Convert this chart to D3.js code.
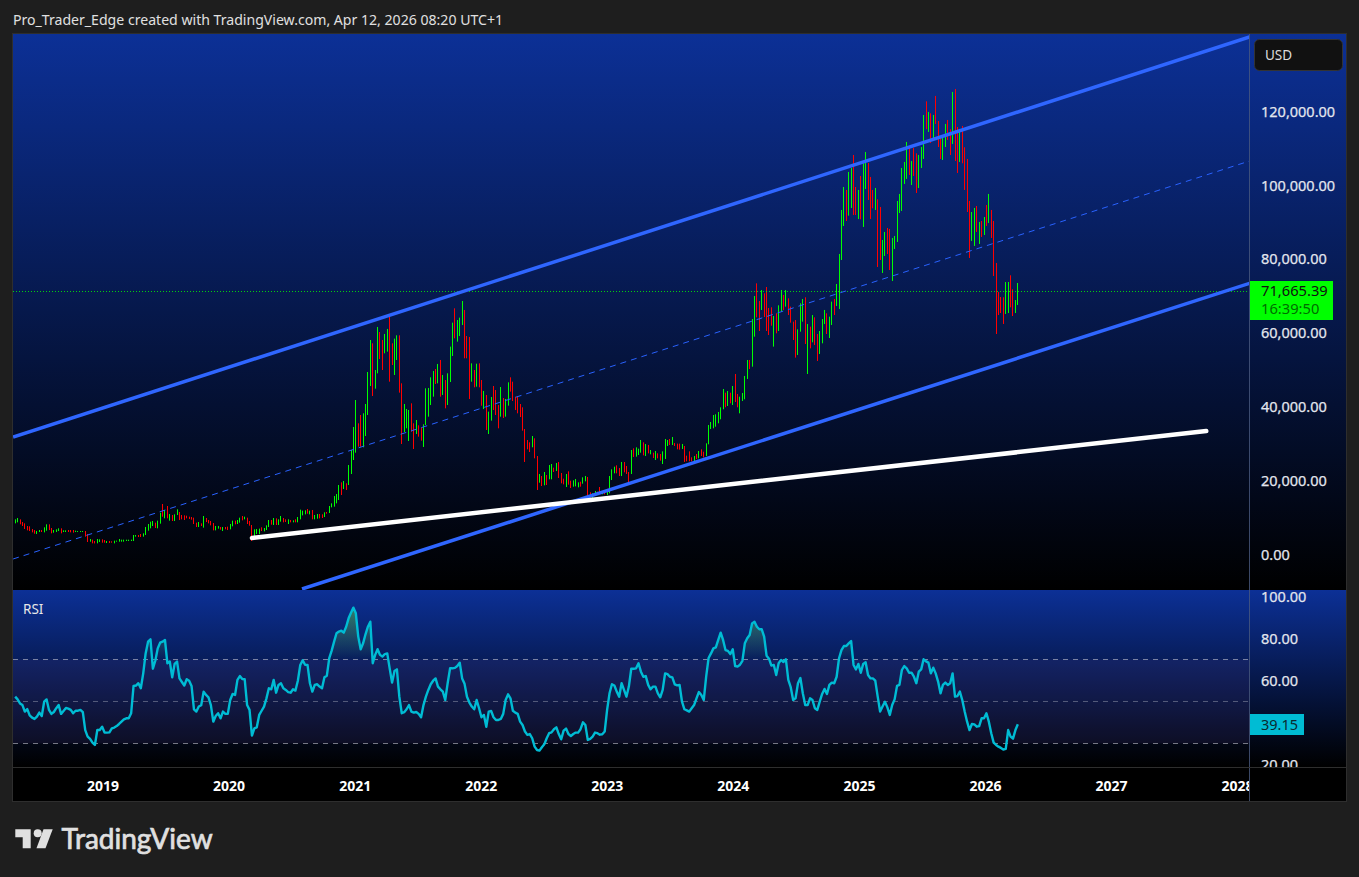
<!DOCTYPE html>
<html>
<head>
<meta charset="utf-8">
<title>BTC weekly</title>
<script src="https://cdnjs.cloudflare.com/ajax/libs/d3/7.9.0/d3.min.js"></script>
<style>
  html, body { margin: 0; padding: 0; background: #1e1e1e; overflow: hidden; }
  text { font-family: "Noto Sans", sans-serif; }
</style>
</head>
<body>
<div id="chart"></div>
<script>
const highs = [
  9650,10010,9650,8930,8570,7850,7760,7040,6760,6490,
  6760,6760,7490,8300,8300,7310,6760,6950,7220,7220,
  6670,6670,6760,6760,6760,6580,6490,6490,6490,6490,
  5680,4330,4150,3790,4330,4240,4240,4060,3790,3790,
  3700,3880,3880,4330,4150,4150,4150,4150,4150,5410,
  5410,5410,5680,5860,7580,8390,9020,9200,8750,9290,
  11450,13800,12180,13260,11090,10820,11000,12360,11640,10820,
  10730,10640,10370,10280,10100,8750,8930,8570,10550,10010,
  9470,9200,8660,7850,7850,7580,7580,7580,7670,8390,
  9290,9290,9470,10100,10550,10370,10100,9200,8120,6950,
  7040,7130,7490,7310,8030,9470,9470,10010,9920,9650,
  10550,10010,9650,9650,9470,9380,9650,10280,12270,12000,
  12090,12450,12000,12180,10820,11090,11090,11000,11550,11640,
  13260,13980,15960,16500,18940,19660,20020,19390,24350,28410,
  34640,41940,35630,37880,38340,40860,49520,58180,57280,50060,
  61700,60340,58180,59800,61160,64670,57280,58540,59440,59440,
  46450,40860,39510,39240,41040,35630,36530,35090,34550,35360,
  45100,45190,48080,49790,50330,51690,52770,48710,47350,49160,
  56380,62870,66750,63590,64220,68730,66300,59260,58990,51860,
  50060,51770,51860,47350,44380,43300,38790,42760,45730,44650,
  40590,45460,42480,42210,46720,48080,46900,42840,42840,40860,
  39960,34100,31120,30490,32200,31570,26790,21920,21380,22460,
  21650,24350,24620,23630,24890,25170,22190,20660,21920,22640,
  20110,20200,20570,19660,19840,21020,21380,21110,16960,16690,
  17320,17140,18400,17230,17140,17320,21380,23180,23900,24260,
  23540,25170,25170,24090,22460,28410,28860,29140,28770,31120,
  30490,30040,29770,28410,27690,28140,27510,27330,28050,31390,
  31120,31390,31930,30310,30130,30130,30040,29500,26880,28050,
  26430,26790,27330,28140,28600,27950,30220,35180,35990,37880,
  38070,38700,39960,44920,43920,44380,43920,45730,48980,43570,
  42840,43840,48440,52770,52770,63860,70080,73510,68730,71710,
  70810,72520,66840,67020,64670,65400,67560,71710,70360,71710,
  69450,67200,63140,63590,61060,68100,69270,69730,62510,61790,
  64940,64310,59800,60610,63860,66300,65400,64490,68550,69270,
  73330,81450,93360,99580,98770,103640,104720,108240,99580,98770,
  102560,105990,109050,106080,102290,98770,99310,96240,94170,85240,
  87400,88490,88220,85780,86320,95790,97690,104720,106350,111760,
  110680,106620,110130,108690,108240,110400,119060,122760,119880,119510,
  119060,124210,117440,113380,113200,116630,117710,115190,125290,126100,
  115820,115280,116090,110320,107160,95790,92810,93900,94440,90110,
  90380,91460,94710,97690,93360,90380,79020,71170,69810,69730,
  73870,73870,75680,71890,68990,73600
];

const lows = [
  8570,8840,8300,7850,7040,6670,6490,6130,5770,5680,
  6220,6220,6130,6580,6760,5860,6040,6220,6490,5860,
  6220,6220,6220,6130,6040,6220,6220,6220,6220,4960,
  3520,3610,3160,3130,3160,3520,3340,3340,3250,3250,
  3340,3160,3610,3610,3610,3610,3790,3790,3790,3790,
  4960,4870,4870,4960,5410,6580,7220,7850,7310,7220,
  8480,10370,9920,9920,9290,9200,9200,10820,9470,9650,
  9470,9920,9740,9560,8390,7580,7580,7850,7400,8930,
  8570,8030,6670,6670,7130,6860,6490,6950,6760,6950,
  7760,8300,8390,8750,9380,9650,8390,7940,3790,4330,
  5680,5680,6490,6400,6760,7580,8210,8120,8120,8120,
  9020,8840,8930,8390,8840,8840,8840,8840,9650,10730,
  11000,11180,11000,9650,9650,9830,9920,10010,10280,11180,
  11360,12900,13080,13980,14880,16240,17860,17590,18940,21920,
  25710,27690,29320,29320,29140,32200,37880,45730,43030,45010,
  49160,53040,50060,54570,55020,46900,51410,48710,52770,43930,
  30040,33280,34280,30850,33370,28680,32740,32020,30940,29230,
  35180,37430,40590,42840,46270,46450,42840,43300,39690,40590,
  46810,53850,58630,57730,59260,62240,53220,53220,42210,46900,
  45370,45550,45370,40410,39510,33830,32740,36350,39240,37880,
  34280,37430,37070,37430,40410,44200,41670,39240,38340,37340,
  33650,25170,28590,27870,29140,26160,17590,19570,18670,18850,
  18940,20480,20480,22460,22730,20840,19390,19120,18400,19030,
  18130,18490,18580,18310,18490,19300,19930,15420,15510,15420,
  15970,16330,16690,16420,16420,16240,16690,20300,22100,22100,
  21380,21380,22370,21920,19390,21920,26520,26610,27060,27690,
  26970,26790,27510,27240,26250,25710,26160,25530,24620,25980,
  29500,29770,29770,29500,28590,28500,28680,25170,25350,25350,
  25350,24980,25980,26160,26800,26430,26790,29950,34100,34280,
  34720,35640,36720,39430,39970,40320,41050,40590,41400,39970,
  38340,41670,42130,47630,50330,50960,59080,64310,60610,66300,
  64400,60610,59530,62060,56380,59980,60610,65850,66300,67200,
  64940,62870,58180,53400,54120,60430,63140,57100,48980,55920,
  57550,56830,52500,54390,57280,62510,59800,58720,62240,64940,
  67380,66570,79830,89030,90380,91820,93900,92000,92000,90920,
  90830,88760,99040,96060,90920,93810,93360,77930,79830,76310,
  80910,81450,77120,74150,82800,84700,92550,93090,100390,101750,
  102830,100120,102560,97960,99310,104720,107160,115190,114470,111490,
  112300,116630,110400,107160,106890,110400,112300,108240,111220,106620,
  103370,106350,105990,98770,92810,80370,84970,83620,87400,84160,
  86050,86590,89030,89840,85780,75500,59800,64940,65480,62510,
  65210,65480,67020,64670,65480,67650
];

// 1 = week closed up, 0 = closed down
const upWeeks = [
  1,1,0,0,0,0,0,0,0,1, 1,0,1,1,0,0,1,1,1,0,
  1,1,0,0,0,1,1,1,1,0, 0,1,0,0,1,1,0,0,1,0,
  0,1,1,1,1,1,1,1,1,1, 1,0,0,1,1,1,1,1,0,1,
  1,0,1,0,1,0,1,1,0,0, 0,0,0,0,0,0,1,0,1,0,
  0,0,0,1,1,0,1,0,0,1, 1,0,1,1,0,1,0,0,0,1,
  1,1,0,1,1,1,0,1,0,1, 1,0,0,1,0,1,0,1,1,1,
  1,0,1,0,1,1,0,0,1,0, 1,1,1,1,1,0,1,0,1,1,
  1,1,0,0,1,1,1,1,0,1, 1,0,0,1,1,0,0,1,1,0,
  0,1,1,1,0,0,1,0,0,1, 1,1,1,1,0,1,0,1,0,1,
  1,1,0,1,1,1,0,0,0,1, 0,1,0,0,1,0,1,1,0,0,
  0,1,0,1,1,0,0,0,0,0, 0,0,0,0,1,0,0,1,0,1,
  0,1,1,0,1,0,0,0,1,0, 0,1,1,1,0,1,1,0,0,1,
  1,0,0,1,0,1,1,1,1,0, 0,1,0,0,0,1,0,1,1,1,
  0,1,0,1,0,1,0,0,1,1, 1,0,1,0,0,0,1,0,0,0,
  0,1,0,1,0,0,1,1,1,1, 1,1,1,1,0,1,0,1,0,0,
  1,1,1,1,0,1,1,0,0,1, 0,0,0,0,1,0,1,1,0,1,
  0,0,0,0,1,1,1,0,1,0, 1,0,0,1,1,1,0,1,1,0,
  1,1,1,1,0,1,1,0,0,1, 0,1,1,0,0,0,1,0,0,1,
  1,0,0,1,1,1,1,1,1,1, 0,1,0,0,1,1,1,0,1,0,
  1,0,0,0,1,1,0,0,1,0, 0,1,0,0,0,0,1,1,0,1,
  0,1,0,1,0,0,0,0,0,0, 1,1,0,0,1,1
];

const rsiValues = [
  52.3,51.0,49.1,48.3,45.2,46.4,43.4,42.3,41.7,42.8,
  44.7,43.1,49.9,51.0,46.0,44.1,45.0,46.8,48.3,44.1,
  45.5,46.9,46.6,46.0,44.4,45.6,45.6,46.0,44.9,36.4,
  33.3,32.2,30.4,29.3,36.4,36.4,38.0,35.2,35.2,35.3,
  37.2,37.6,38.3,39.3,40.4,41.5,42.0,42.0,44.4,57.4,
  57.6,58.7,56.3,63.4,72.9,78.5,79.6,65.6,69.4,75.3,
  78.0,78.5,79.3,68.2,69.0,61.5,67.9,69.0,61.0,59.3,
  57.6,60.6,59.9,57.4,46.3,45.2,47.6,48.2,54.7,53.1,
  52.0,48.3,40.4,43.1,44.4,42.0,45.2,44.1,44.1,50.7,
  53.6,53.1,60.3,62.1,60.7,60.6,48.3,46.0,33.8,37.2,
  37.7,43.6,45.6,47.6,51.5,56.3,55.8,60.3,54.2,57.9,
  58.7,56.3,55.5,54.5,54.2,55.8,55.2,59.9,67.4,69.6,
  67.5,67.4,58.7,54.7,57.9,58.2,57.1,56.3,61.5,62.3,
  70.6,74.2,78.5,82.5,83.3,83.7,82.8,85.6,89.6,92.3,
  94.7,92.0,80.9,74.9,77.7,82.0,85.6,88.0,68.2,72.2,
  74.9,72.2,71.4,72.6,72.9,65.8,59.0,64.5,65.3,52.3,
  44.4,44.9,46.3,48.3,45.2,44.7,45.0,44.1,42.5,48.3,
  52.3,55.5,58.2,59.9,61.0,57.1,55.8,54.7,50.7,58.7,
  65.8,65.8,66.0,66.9,68.5,61.0,58.4,52.3,49.5,47.6,
  46.3,50.7,46.8,42.5,43.6,38.0,45.2,45.5,42.5,41.2,
  41.2,41.7,44.1,50.7,53.4,51.5,45.6,44.7,44.1,40.4,
  38.8,35.7,34.1,34.5,32.5,28.5,26.9,26.6,28.2,29.6,
  32.5,34.9,35.3,36.8,37.7,34.5,32.0,36.1,37.1,34.5,
  33.6,34.5,35.2,35.2,36.8,40.1,38.8,31.7,32.2,33.3,
  35.2,34.9,34.2,34.4,35.7,46.0,53.9,58.2,57.6,54.7,
  52.3,58.7,55.5,52.3,57.1,65.6,65.6,65.8,68.2,64.2,
  61.8,62.1,57.9,55.8,57.1,57.1,53.9,52.0,55.5,63.4,
  63.0,61.8,61.5,58.2,57.7,57.9,49.9,46.3,45.8,45.2,
  46.8,48.3,51.5,54.5,53.1,50.7,61.8,70.7,72.9,75.3,
  75.8,79.3,82.8,79.3,74.5,74.1,72.6,74.9,66.9,66.6,
  67.5,69.4,77.7,80.1,81.7,87.2,88.0,85.6,84.4,84.4,
  80.9,71.8,70.4,67.1,67.4,62.6,68.2,69.8,68.8,70.1,
  60.3,56.8,50.7,51.5,58.7,61.2,53.9,48.3,48.3,51.5,
  50.7,46.8,46.0,49.9,53.6,56.0,53.6,57.9,59.0,58.7,
  61.8,70.6,74.5,76.4,76.4,77.7,78.8,67.4,65.3,67.9,
  63.7,67.9,68.7,62.6,61.0,61.0,59.9,52.3,45.2,47.6,
  49.9,47.2,43.6,48.3,51.0,57.4,57.9,65.0,66.9,65.8,
  63.7,63.7,61.8,58.7,64.2,65.3,70.1,69.1,68.5,63.4,
  66.1,63.4,59.5,53.9,57.9,59.0,57.9,58.7,63.4,52.3,
  52.6,54.7,50.7,45.2,40.4,36.4,39.3,39.1,38.0,38.3,
  42.0,42.0,44.4,40.4,34.9,30.4,29.3,28.5,27.9,27.1,
  27.4,36.4,33.3,32.3,36.4,39.15
];

const priceTicks = [0, 20000, 40000, 60000, 80000, 100000, 120000];
const rsiTicks = [20, 60, 80, 100];
const rsiLevels = [70, 50, 30];
const yearTicks = [2019, 2020, 2021, 2022, 2023, 2024, 2025, 2026, 2027, 2028];

const lastPrice = 71665.39;
const lastPriceLabel = "71,665.39";
const countdownLabel = "16:39:50";
const lastRsi = 39.15;

// drawn trend lines as [date, price]
const channelTop = [["2018-04-17", 31930], ["2028-02-07", 140170]];
const channelMid = [["2018-04-17", -1080], ["2028-02-07", 106620]];
const channelBottom = [["2020-08-01", -9200], ["2028-02-07", 73520]];
const supportLine = [["2020-03-09", 4600], ["2027-10-04", 33550]];

const width = 1359, height = 877;
const left = 13, right = 1346, axisX = 1249;
const priceTop = 34, priceBottom = 590, rsiBottom = 767, timeBottom = 801;

const svg = d3.select("#chart").append("svg")
    .attr("width", width)
    .attr("height", height)
    .style("display", "block");

const defs = svg.append("defs");

function paneGradient(id, y1, y2) {
    const g = defs.append("linearGradient")
        .attr("id", id)
        .attr("gradientUnits", "userSpaceOnUse")
        .attr("x1", 0).attr("x2", 0)
        .attr("y1", y1).attr("y2", y2);
    g.append("stop").attr("offset", "0%").attr("stop-color", "#0c3096");
    g.append("stop").attr("offset", "100%").attr("stop-color", "#000000");
}
paneGradient("priceBg", priceTop, priceBottom);
paneGradient("rsiBg", priceBottom, rsiBottom);

function clip(id, x, y, w, h) {
    defs.append("clipPath").attr("id", id)
        .append("rect").attr("x", x).attr("y", y).attr("width", w).attr("height", h);
}
clip("clipPrice", left, priceTop, axisX - left, priceBottom - priceTop);
clip("clipRsi", left, priceBottom, axisX - left, rsiBottom - priceBottom);
clip("clipRsiAxis", axisX, priceBottom, right - axisX, rsiBottom - priceBottom);
clip("clipTime", left, rsiBottom, axisX - left, timeBottom - rsiBottom);

// scales
const x = d3.scaleUtc()
    .domain([new Date(Date.UTC(2019, 0, 1)), new Date(Date.UTC(2028, 0, 1))])
    .range([102.5, 1237]);

const yPrice = d3.scaleLinear()
    .domain([0, 120000])
    .range([555, 111.5]);

const yRsi = d3.scaleLinear()
    .domain([30, 70])
    .range([743.5, 659.5]);

const firstWeek = new Date(Date.UTC(2018, 3, 23));
const weeks = highs.map((d, i) => d3.utcDay.offset(firstWeek, i * 7));

// backgrounds
svg.append("rect").attr("x", left).attr("y", priceTop)
    .attr("width", right - left).attr("height", priceBottom - priceTop)
    .attr("fill", "url(#priceBg)");
svg.append("rect").attr("x", left).attr("y", priceBottom)
    .attr("width", right - left).attr("height", rsiBottom - priceBottom)
    .attr("fill", "url(#rsiBg)");
svg.append("rect").attr("x", left).attr("y", rsiBottom)
    .attr("width", right - left).attr("height", timeBottom - rsiBottom)
    .attr("fill", "#000");

// weekly bars
const pricePane = svg.append("g").attr("clip-path", "url(#clipPrice)");

pricePane.append("g").selectAll("rect")
    .data(weeks)
    .enter().append("rect")
    .attr("x", d => Math.floor(x(d)))
    .attr("width", 1)
    .attr("y", (d, i) => yPrice(highs[i]))
    .attr("height", (d, i) => yPrice(lows[i]) - yPrice(highs[i]))
    .attr("fill", (d, i) => upWeeks[i] ? "#00ff00" : "#ff0000");

// last price line
pricePane.append("line")
    .attr("x1", left).attr("x2", axisX)
    .attr("y1", Math.ceil(yPrice(lastPrice)) + 0.5)
    .attr("y2", Math.ceil(yPrice(lastPrice)) + 0.5)
    .attr("stroke", "#00ff00")
    .attr("stroke-opacity", 0.8)
    .attr("stroke-width", 1)
    .attr("stroke-dasharray", "1 2");

// trend lines
const trend = d3.line()
    .x(d => x(new Date(d[0])))
    .y(d => yPrice(d[1]));

pricePane.append("path").attr("d", trend(channelMid))
    .attr("fill", "none").attr("stroke", "#2962ff").attr("stroke-width", 1)
    .attr("stroke-dasharray", "6 5");
pricePane.append("path").attr("d", trend(channelTop))
    .attr("fill", "none").attr("stroke", "#2f66ff").attr("stroke-width", 3.5);
pricePane.append("path").attr("d", trend(channelBottom))
    .attr("fill", "none").attr("stroke", "#2f66ff").attr("stroke-width", 3.5);
pricePane.append("path").attr("d", trend(supportLine))
    .attr("fill", "none").attr("stroke", "#ffffff").attr("stroke-width", 4.5)
    .attr("stroke-linecap", "round");

// rsi pane
const rsiPane = svg.append("g").attr("clip-path", "url(#clipRsi)");

rsiPane.append("rect")
    .attr("x", left).attr("width", axisX - left)
    .attr("y", yRsi(70)).attr("height", yRsi(30) - yRsi(70))
    .attr("fill", "#7e57c2").attr("opacity", 0.1);

rsiPane.selectAll("line.level")
    .data(rsiLevels)
    .enter().append("line")
    .attr("class", "level")
    .attr("x1", left).attr("x2", axisX)
    .attr("y1", d => Math.floor(yRsi(d)) + 0.5)
    .attr("y2", d => Math.floor(yRsi(d)) + 0.5)
    .attr("stroke", "#d1d4dc")
    .attr("stroke-opacity", d => d === 50 ? 0.35 : 0.55)
    .attr("stroke-dasharray", "5 5");

const overGrad = defs.append("linearGradient").attr("id", "overFill")
    .attr("gradientUnits", "userSpaceOnUse")
    .attr("x1", 0).attr("x2", 0).attr("y1", yRsi(100)).attr("y2", yRsi(70));
overGrad.append("stop").attr("offset", "0%").attr("stop-color", "#4caf50").attr("stop-opacity", 0.75);
overGrad.append("stop").attr("offset", "100%").attr("stop-color", "#4caf50").attr("stop-opacity", 0);

defs.append("clipPath").attr("id", "clipOver").append("rect")
    .attr("x", left).attr("width", axisX - left)
    .attr("y", priceBottom).attr("height", yRsi(70) - priceBottom);

rsiPane.append("g").attr("clip-path", "url(#clipOver)").append("path")
    .attr("d", d3.area()
        .x((d, i) => x(weeks[i]))
        .y0(yRsi(70))
        .y1(d => yRsi(d))(rsiValues))
    .attr("fill", "url(#overFill)");

rsiPane.append("path")
    .attr("d", d3.line()
        .x((d, i) => x(weeks[i]))
        .y(d => yRsi(d))(rsiValues))
    .attr("fill", "none")
    .attr("stroke", "#00bcd4")
    .attr("stroke-width", 2.4)
    .attr("stroke-linejoin", "round");

// axes
function styleAxis(g) {
    g.select(".domain").remove();
    g.selectAll(".tick line").remove();
    g.selectAll("text")
        .attr("fill", "#e3e6ee")
        .style("font-size", "14.5px")
        .style("stroke", "#e3e6ee")
        .style("stroke-width", 0.25);
}

svg.append("g")
    .attr("transform", `translate(${axisX},0)`)
    .call(d3.axisRight(yPrice).tickValues(priceTicks).tickFormat(d3.format(",.2f")).tickSize(0).tickPadding(12))
    .call(styleAxis);

svg.append("g")
    .attr("clip-path", "url(#clipRsiAxis)")
    .append("g")
    .attr("transform", `translate(${axisX},0)`)
    .call(d3.axisRight(yRsi).tickValues(rsiTicks).tickFormat(d3.format(".2f")).tickSize(0).tickPadding(12))
    .call(styleAxis);

svg.append("g")
    .attr("clip-path", "url(#clipTime)")
    .append("g")
    .attr("transform", `translate(0,${rsiBottom + 8})`)
    .call(d3.axisBottom(x)
        .tickValues(yearTicks.map(y => new Date(Date.UTC(y, 0, 1))))
        .tickFormat(d3.utcFormat("%Y"))
        .tickPadding(0))
    .call(styleAxis)
    .call(g => g.selectAll("text")
        .style("font-size", "14px")
        .style("stroke", "none")
        .style("font-weight", 700)
        .attr("fill", "#fff"));

// pane and frame lines
svg.append("line").attr("x1", axisX + 0.5).attr("x2", axisX + 0.5)
    .attr("y1", priceTop).attr("y2", timeBottom)
    .attr("stroke", "#4a5a80").attr("stroke-opacity", 0.8);
svg.append("line").attr("x1", left).attr("x2", right)
    .attr("y1", rsiBottom + 0.5).attr("y2", rsiBottom + 0.5)
    .attr("stroke", "#2e2e2e");
svg.append("rect").attr("x", left - 0.5).attr("y", priceTop - 0.5)
    .attr("width", right - left + 1).attr("height", timeBottom - priceTop + 1)
    .attr("fill", "none").attr("stroke", "#2e2e2e");

// currency button
svg.append("rect").attr("x", 1254.5).attr("y", 39.5).attr("width", 88).attr("height", 31).attr("rx", 5)
    .attr("fill", "#111").attr("stroke", "#333");
svg.append("text").attr("x", 1265).attr("y", 60)
    .attr("fill", "#dcdcdc").style("font-size", "13.5px").text("USD");

// last price label
svg.append("rect").attr("x", axisX + 1).attr("y", 281).attr("width", 83).attr("height", 39).attr("fill", "#00ff00");
svg.append("text").attr("x", 1261).attr("y", 296)
    .attr("fill", "#111").style("font-size", "14.7px").text(lastPriceLabel);
svg.append("text").attr("x", 1261).attr("y", 314)
    .attr("fill", "#006d00").style("font-size", "14.7px").text(countdownLabel);

// last rsi label
svg.append("rect").attr("x", axisX + 1).attr("y", 714).attr("width", 54).attr("height", 21).attr("fill", "#00bcd4");
svg.append("text").attr("x", 1261).attr("y", 730)
    .attr("fill", "#0b2a30").style("font-size", "14.5px").text(d3.format(".2f")(lastRsi));

// header, pane title and logo
svg.append("text").attr("x", 13).attr("y", 25)
    .attr("fill", "#e0e0e0").style("font-size", "14.1px")
    .text("Pro_Trader_Edge created with TradingView.com, Apr 12, 2026 08:20 UTC+1");

svg.append("text").attr("x", 23).attr("y", 614)
    .attr("fill", "#e8e8e8").style("font-size", "13.5px").text("RSI");

const logo = svg.append("g").attr("fill", "#e0e0e0");
logo.append("path").attr("d", "M15.3 829.3H30.7V848.3H22.7V837.3H15.3Z");
logo.append("circle").attr("cx", 37.7).attr("cy", 833.3).attr("r", 4);
logo.append("path").attr("d", "M43.5 829.3H52.7L45.5 848.3H36.5Z");
logo.append("text").attr("x", 61.5).attr("y", 849)
    .attr("fill", "#e0e0e0")
    .style("font-family", "Lato, sans-serif")
    .style("font-size", "28px")
    .style("stroke", "#e0e0e0")
    .style("stroke-width", 0.7)
    .text("TradingView");
</script>
</body>
</html>
